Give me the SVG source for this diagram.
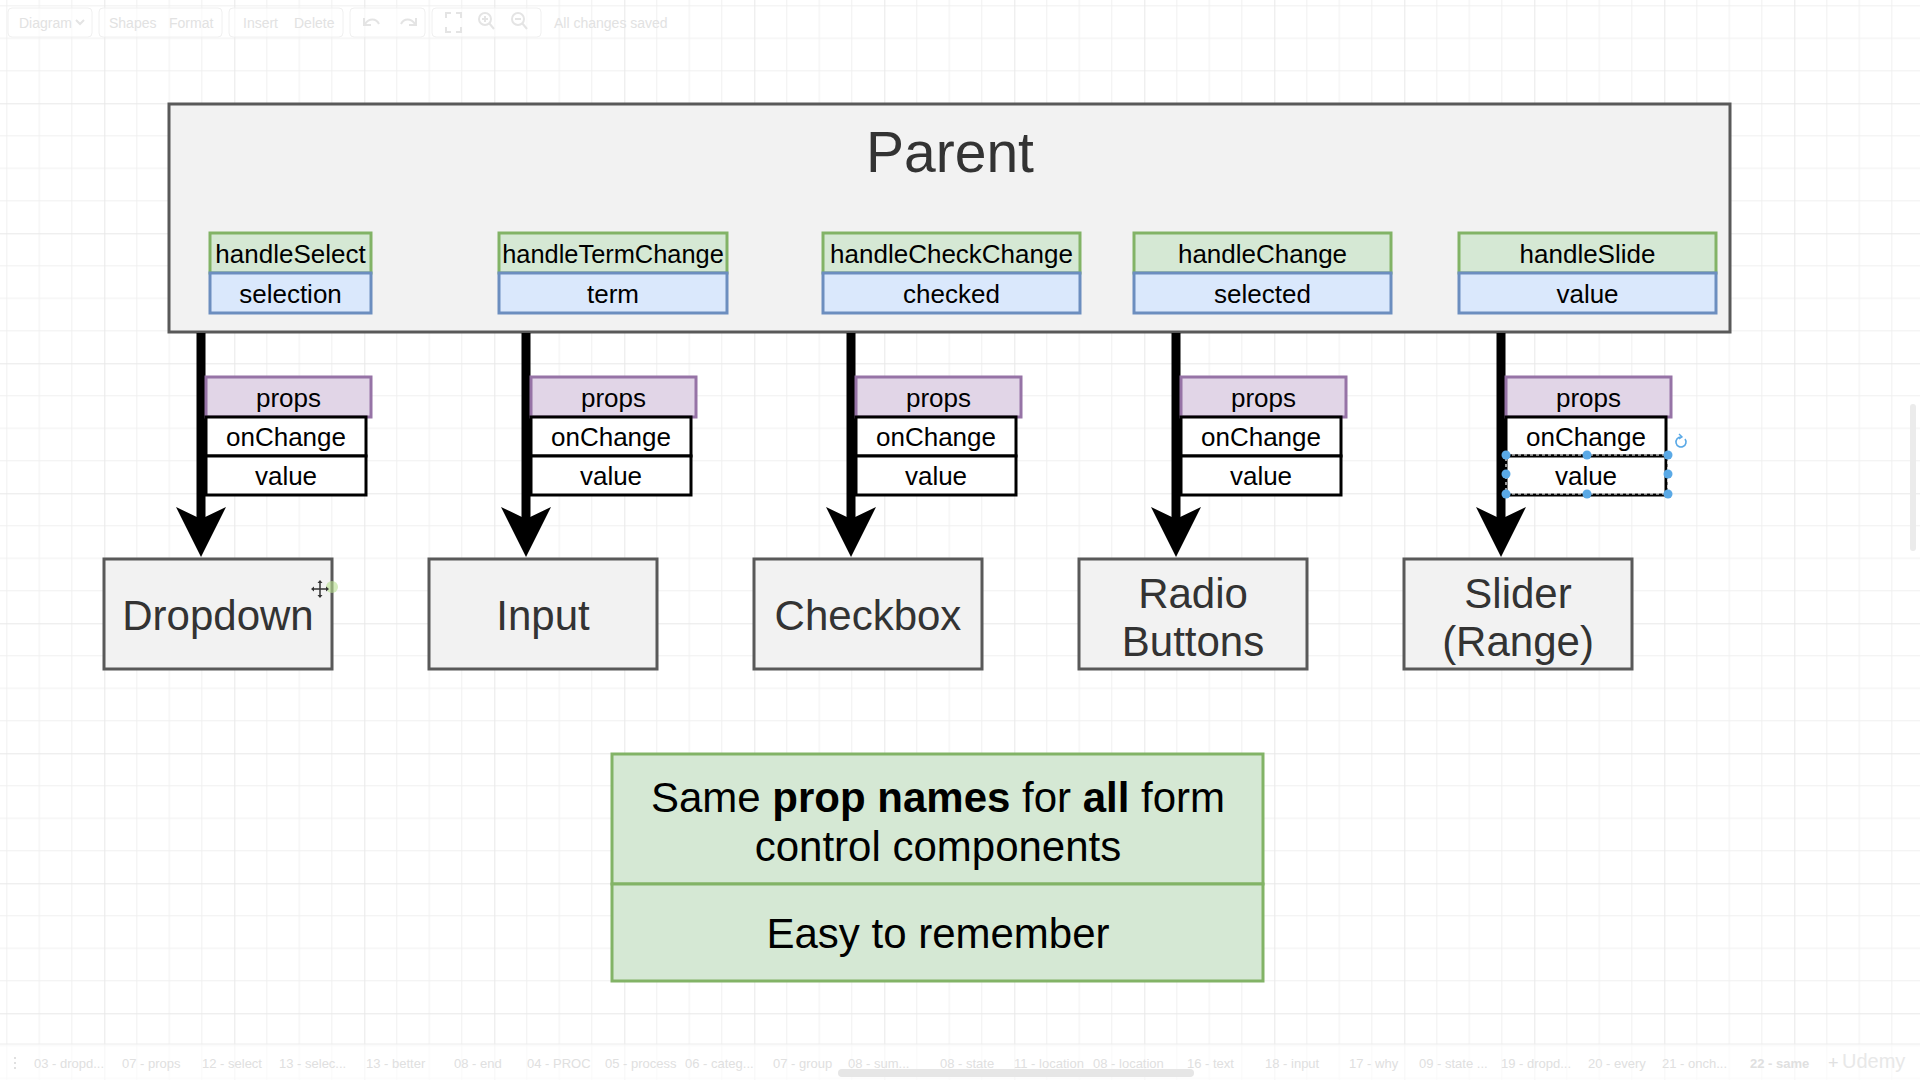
<svg xmlns="http://www.w3.org/2000/svg" width="1920" height="1080" viewBox="0 0 1920 1080">
<defs>
<pattern id="grid" x="104.3" y="103.3" width="130" height="130" patternUnits="userSpaceOnUse">
<path d="M32.5 0V130M65 0V130M97.5 0V130M0 32.5H130M0 65H130M0 97.5H130" stroke="#f0f0f0" stroke-width="1" fill="none"/>
<path d="M0.5 0V130M0 0.5H130" stroke="#e8e8e8" stroke-width="1" fill="none"/>
</pattern>
<marker id="arrow" markerUnits="userSpaceOnUse" viewBox="0 -26 52 52" markerWidth="52" markerHeight="52" refX="12" refY="0" orient="auto">
<path d="M0,-25 L50,0 L0,25 L12,0 Z" fill="#000"/>
</marker>
<style>
text{font-family:"Liberation Sans",Arial,Helvetica,sans-serif}
.box{fill:#f2f2f2;stroke:#595959;stroke-width:3}
.green{fill:#d5e8d4;stroke:#82b366;stroke-width:3}
.blue{fill:#dae8fc;stroke:#6c8ebf;stroke-width:3}
.purple{fill:#e1d5e7;stroke:#9673a6;stroke-width:3}
.white{fill:#fff;stroke:#000;stroke-width:3}
.t26{font-size:26px;fill:#000;text-anchor:middle}
.t42{font-size:42px;fill:#333;text-anchor:middle}
.conn{stroke:#000;stroke-width:9;fill:none;marker-end:url(#arrow)}
.ui{font-size:14px;fill:#e2e2e2}
.tab{font-size:13px;fill:#e0e0e0}
.tb{fill:#fff;fill-opacity:0.6;stroke:#f0f0f0;stroke-width:1}
.icon{stroke:#e4e4e4;stroke-width:2;fill:none}
.sel{fill:#5aa9e6}
</style>
</defs>

<rect width="1920" height="1080" fill="#fff"/>
<rect width="1920" height="1080" fill="url(#grid)"/>

<!-- editor toolbar (faint) -->
<g id="toolbar">
<rect class="tb" x="8" y="8" width="84" height="29" rx="4"/>
<rect class="tb" x="99" y="8" width="123" height="29" rx="4"/>
<rect class="tb" x="229" y="8" width="114" height="29" rx="4"/>
<rect class="tb" x="350" y="8" width="75" height="29" rx="4"/>
<rect class="tb" x="432" y="8" width="109" height="29" rx="4"/>
<text class="ui" x="19" y="28">Diagram</text>
<path class="icon" d="M76 20l4 4 4-4" stroke-width="1.2"/>
<text class="ui" x="109" y="28">Shapes</text>
<text class="ui" x="169" y="28">Format</text>
<text class="ui" x="243" y="28">Insert</text>
<text class="ui" x="294" y="28">Delete</text>
<path class="icon" d="M364 18v7h7M365 24c4-6 11-6 14 0" stroke="#e0e0e0"/>
<path class="icon" d="M416 18v7h-7M415 24c-4-6-11-6-14 0" stroke="#efefef"/>
<path class="icon" d="M446 18v-5h5M456 13h5v5M461 27v5h-5M451 32h-5v-5"/>
<circle class="icon" cx="485" cy="19" r="6"/>
<path class="icon" d="M489 23l5 6M482 19h6M485 16v6" stroke-width="1.5"/>
<circle class="icon" cx="518" cy="19" r="6"/>
<path class="icon" d="M522 23l5 6M515 19h6" stroke-width="1.5"/>
<text class="ui" x="554" y="28">All changes saved</text>
</g>

<!-- Parent -->
<g id="parent">
<rect class="box" x="169" y="104" width="1561" height="228"/>
<text x="950" y="172" style="font-size:57px;fill:#333;text-anchor:middle">Parent</text>
</g>

<g id="handle-select">
<rect class="green" x="210" y="233" width="161" height="40"/>
<rect class="blue" x="210" y="273" width="161" height="40"/>
<text class="t26" x="290.5" y="263">handleSelect</text>
<text class="t26" x="290.5" y="303">selection</text>
</g>
<g id="handle-term">
<rect class="green" x="499" y="233" width="228" height="40"/>
<rect class="blue" x="499" y="273" width="228" height="40"/>
<text class="t26" x="613" y="263" style="font-size:25.4px">handleTermChange</text>
<text class="t26" x="613" y="303">term</text>
</g>
<g id="handle-check">
<rect class="green" x="823" y="233" width="257" height="40"/>
<rect class="blue" x="823" y="273" width="257" height="40"/>
<text class="t26" x="951.5" y="263">handleCheckChange</text>
<text class="t26" x="951.5" y="303">checked</text>
</g>
<g id="handle-change">
<rect class="green" x="1134" y="233" width="257" height="40"/>
<rect class="blue" x="1134" y="273" width="257" height="40"/>
<text class="t26" x="1262.5" y="263">handleChange</text>
<text class="t26" x="1262.5" y="303">selected</text>
</g>
<g id="handle-slide">
<rect class="green" x="1459" y="233" width="257" height="40"/>
<rect class="blue" x="1459" y="273" width="257" height="40"/>
<text class="t26" x="1587.5" y="263">handleSlide</text>
<text class="t26" x="1587.5" y="303">value</text>
</g>

<!-- connectors -->
<g id="connectors">
<path class="conn" d="M201 333V519"/>
<path class="conn" d="M526 333V519"/>
<path class="conn" d="M851 333V519"/>
<path class="conn" d="M1176 333V519"/>
<path class="conn" d="M1501 333V519"/>
</g>

<!-- props tables -->
<g id="props-dropdown">
<rect class="purple" x="206" y="377" width="165" height="40"/>
<rect class="white" x="206" y="417" width="160" height="39"/>
<rect class="white" x="206" y="456" width="160" height="39"/>
<text class="t26" x="288.5" y="407">props</text>
<text class="t26" x="286" y="446">onChange</text>
<text class="t26" x="286" y="485">value</text>
</g>
<g id="props-input">
<rect class="purple" x="531" y="377" width="165" height="40"/>
<rect class="white" x="531" y="417" width="160" height="39"/>
<rect class="white" x="531" y="456" width="160" height="39"/>
<text class="t26" x="613.5" y="407">props</text>
<text class="t26" x="611" y="446">onChange</text>
<text class="t26" x="611" y="485">value</text>
</g>
<g id="props-checkbox">
<rect class="purple" x="856" y="377" width="165" height="40"/>
<rect class="white" x="856" y="417" width="160" height="39"/>
<rect class="white" x="856" y="456" width="160" height="39"/>
<text class="t26" x="938.5" y="407">props</text>
<text class="t26" x="936" y="446">onChange</text>
<text class="t26" x="936" y="485">value</text>
</g>
<g id="props-radio">
<rect class="purple" x="1181" y="377" width="165" height="40"/>
<rect class="white" x="1181" y="417" width="160" height="39"/>
<rect class="white" x="1181" y="456" width="160" height="39"/>
<text class="t26" x="1263.5" y="407">props</text>
<text class="t26" x="1261" y="446">onChange</text>
<text class="t26" x="1261" y="485">value</text>
</g>
<g id="props-slider">
<rect class="purple" x="1506" y="377" width="165" height="40"/>
<rect class="white" x="1506" y="417" width="160" height="39"/>
<rect class="white" x="1506" y="456" width="160" height="39"/>
<text class="t26" x="1588.5" y="407">props</text>
<text class="t26" x="1586" y="446">onChange</text>
<text class="t26" x="1586" y="485">value</text>
<!-- selection handles -->
<rect x="1506" y="455" width="162" height="39" fill="none" stroke="#fff" stroke-width="1.2" stroke-dasharray="3 3"/>
<circle class="sel" cx="1506" cy="455" r="4.5"/>
<circle class="sel" cx="1587" cy="455" r="4.5"/>
<circle class="sel" cx="1668" cy="455" r="4.5"/>
<circle class="sel" cx="1506" cy="474" r="4.5"/>
<circle class="sel" cx="1668" cy="474" r="4.5"/>
<circle class="sel" cx="1506" cy="494" r="4.5"/>
<circle class="sel" cx="1587" cy="494" r="4.5"/>
<circle class="sel" cx="1668" cy="494" r="4.5"/>
<path d="M1685 439a5 5 0 1 1 -4 -2" fill="none" stroke="#5aa9e6" stroke-width="1.6"/>
<path d="M1679 434l3 3 -3 2" fill="none" stroke="#5aa9e6" stroke-width="1.4"/>
</g>

<!-- children -->
<g id="dropdown">
<rect class="box" x="104" y="559" width="228" height="110"/>
<text class="t42" x="218" y="630">Dropdown</text>
<circle cx="332" cy="587" r="6" fill="#b7e08f" fill-opacity="0.6"/>
<path d="M320 582v14M313 589h14" stroke="#333" stroke-width="1.5"/>
<path d="M320 580l-2.5 3h5zM320 598l-2.5 -3h5zM311 589l3 -2.5v5zM329 589l-3 -2.5v5z" fill="#333"/>
</g>
<g id="input">
<rect class="box" x="429" y="559" width="228" height="110"/>
<text class="t42" x="543" y="630">Input</text>
</g>
<g id="checkbox">
<rect class="box" x="754" y="559" width="228" height="110"/>
<text class="t42" x="868" y="630">Checkbox</text>
</g>
<g id="radio">
<rect class="box" x="1079" y="559" width="228" height="110"/>
<text class="t42" x="1193" y="608">Radio</text>
<text class="t42" x="1193" y="656">Buttons</text>
</g>
<g id="slider">
<rect class="box" x="1404" y="559" width="228" height="110"/>
<text class="t42" x="1518" y="608">Slider</text>
<text class="t42" x="1518" y="656">(Range)</text>
</g>

<!-- note -->
<g id="note">
<rect class="green" x="612" y="754" width="651" height="130"/>
<rect class="green" x="612" y="884" width="651" height="97"/>
<text class="t42" x="938" y="812" style="fill:#000">Same <tspan font-weight="bold">prop names</tspan> for <tspan font-weight="bold">all</tspan> form</text>
<text class="t42" x="938" y="861" style="fill:#000">control components</text>
<text class="t42" x="938" y="948" style="fill:#000">Easy to remember</text>
</g>

<!-- scrollbars and page tabs (faint) -->
<rect x="1910" y="404" width="6" height="147" rx="3" fill="#ebebeb"/>
<g id="tabs">
<rect x="0" y="1044" width="1920" height="36" fill="#fff" fill-opacity="0.6"/>
<path d="M0 1044H1920" stroke="#ececec" stroke-width="1"/>
<path d="M15 1057v2M15 1062v2M15 1067v2" stroke="#e0e0e0" stroke-width="2"/>
<text class="tab" x="34" y="1068">03 - dropd...</text>
<text class="tab" x="122" y="1068">07 - props</text>
<text class="tab" x="202" y="1068">12 - select</text>
<text class="tab" x="279" y="1068">13 - selec...</text>
<text class="tab" x="366" y="1068">13 - better</text>
<text class="tab" x="454" y="1068">08 - end</text>
<text class="tab" x="527" y="1068">04 - PROC</text>
<text class="tab" x="605" y="1068">05 - process</text>
<text class="tab" x="685" y="1068">06 - categ...</text>
<text class="tab" x="773" y="1068">07 - group</text>
<text class="tab" x="848" y="1068">08 - sum...</text>
<text class="tab" x="940" y="1068">08 - state</text>
<text class="tab" x="1014" y="1068">11 - location</text>
<text class="tab" x="1093" y="1068">08 - location</text>
<text class="tab" x="1187" y="1068">16 - text</text>
<text class="tab" x="1265" y="1068">18 - input</text>
<text class="tab" x="1349" y="1068">17 - why</text>
<text class="tab" x="1419" y="1068">09 - state ...</text>
<text class="tab" x="1501" y="1068">19 - dropd...</text>
<text class="tab" x="1588" y="1068">20 - every</text>
<text class="tab" x="1662" y="1068">21 - onch...</text>
<text class="tab" x="1750" y="1068" font-weight="bold" fill="#d2d2d2">22 - same</text>
<text class="tab" x="1828" y="1069" style="font-size:18px">+</text>
<rect x="838" y="1069" width="356" height="8" rx="4" fill="#e6e6e6"/>
<text x="1842" y="1068" style="font-size:20px;fill:#e8e8e8">Udemy</text>
</g>
</svg>
